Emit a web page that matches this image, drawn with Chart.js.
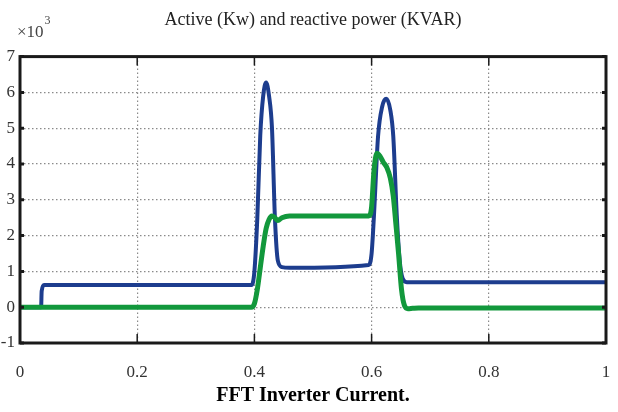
<!DOCTYPE html>
<html>
<head>
<meta charset="utf-8">
<title>Active and reactive power</title>
<script src="https://cdn.jsdelivr.net/npm/chart.js@4.4.1/dist/chart.umd.min.js"></script>
<style>
  html, body { margin: 0; padding: 0; background: #fff; }
  #wrap { width: 618px; height: 412px; }
</style>
</head>
<body>
<div id="wrap"><canvas id="chart" width="618" height="412"></canvas></div>
<script>
// Valeurs (échelle y en ×10^3)
const xTicks = [0, 0.2, 0.4, 0.6, 0.8, 1];
const yTicks = [-1, 0, 1, 2, 3, 4, 5, 6, 7];

// Puissance active (bleu)
const activeX = [0, 0.036, 0.037, 0.041, 0.395, 0.400, 0.405, 0.410, 0.415, 0.420, 0.425, 0.430, 0.435, 0.440, 0.447, 0.460,
  0.595, 0.600, 0.604, 0.611, 0.618, 0.625, 0.632, 0.637, 0.643, 0.648, 0.653, 0.660, 1];
const activeY = [0, 0, 0.45, 0.62, 0.62, 1.0, 2.5, 4.8, 5.9, 6.28, 5.9, 5.0, 2.5, 1.3, 1.12, 1.1,
  1.18, 1.5, 2.55, 4.77, 5.6, 5.82, 5.5, 4.77, 2.55, 1.3, 0.8, 0.7, 0.7];

// Puissance réactive (vert)
const reactiveX = [0, 0.395, 0.400, 0.405, 0.410, 0.415, 0.420, 0.425, 0.430, 0.435, 0.440, 0.447, 0.460,
  0.595, 0.600, 0.604, 0.609, 0.615, 0.620, 0.626, 0.632, 0.637, 0.641, 0.646, 0.651, 0.656, 0.662, 0.670, 0.680, 1];
const reactiveY = [0, 0, 0.1, 0.5, 1.1, 1.7, 2.2, 2.45, 2.55, 2.5, 2.42, 2.5, 2.55,
  2.55, 2.8, 3.8, 4.3, 4.2, 4.05, 3.9, 3.6, 3.1, 2.4, 1.5, 0.5, 0.05, -0.04, -0.03, -0.02, -0.02];

const toPoints = (xs, ys) => xs.map((x, i) => ({ x, y: ys[i] }));

const serif = "'Liberation Serif', 'Times New Roman', serif";

// cadre noir + graduations vers l'intérieur + ×10^3
const framePlugin = {
  id: "frame",
  afterDatasetsDraw(chart) {
    const { ctx, chartArea: a, scales } = chart;
    ctx.save();
    ctx.strokeStyle = "#1a1a1a";
    ctx.lineWidth = 1.5;
    ctx.beginPath();
    xTicks.forEach((v) => {
      const px = scales.x.getPixelForValue(v);
      ctx.moveTo(px, a.top); ctx.lineTo(px, a.top + 9);
      ctx.moveTo(px, a.bottom); ctx.lineTo(px, a.bottom - 9);
    });
    ctx.stroke();
    ctx.lineWidth = 3;
    ctx.beginPath();
    yTicks.forEach((v) => {
      const py = scales.y.getPixelForValue(v);
      ctx.moveTo(a.left, py); ctx.lineTo(a.left + 4, py);
      ctx.moveTo(a.right, py); ctx.lineTo(a.right - 4, py);
    });
    ctx.stroke();
    ctx.lineWidth = 3;
    ctx.strokeRect(a.left, a.top, a.right - a.left, a.bottom - a.top);

    ctx.fillStyle = "#444";
    ctx.textBaseline = "alphabetic";
    ctx.font = "17px " + serif;
    ctx.fillText("×10", 17, 37);
    const w = ctx.measureText("×10").width;
    ctx.font = "12px " + serif;
    ctx.fillText("3", 17 + w + 1, 24);
    ctx.restore();
  }
};

new Chart(document.getElementById("chart"), {
  type: "line",
  data: {
    datasets: [
      {
        label: "Reactive power (KVAR)",
        data: toPoints(reactiveX, reactiveY),
        borderColor: "#12983c",
        borderWidth: 5,
        pointRadius: 0,
        cubicInterpolationMode: "monotone",
        order: 0
      },
      {
        label: "Active power (Kw)",
        data: toPoints(activeX, activeY),
        borderColor: "#1d3d8e",
        borderWidth: 4,
        pointRadius: 0,
        cubicInterpolationMode: "monotone",
        order: 1
      }
    ]
  },
  options: {
    responsive: false,
    animation: false,
    layout: { padding: { left: 0, right: 12, top: 0, bottom: 0 } },
    plugins: {
      legend: { display: false },
      tooltip: { enabled: false },
      title: {
        display: true,
        fullSize: false,
        text: "Active (Kw) and reactive power (KVAR)",
        color: "#222",
        font: { family: serif, size: 18, weight: "normal" },
        padding: { top: 9, bottom: 26 }
      },
      subtitle: {
        display: true,
        fullSize: false,
        position: "bottom",
        text: "FFT Inverter Current.",
        color: "#000",
        font: { family: serif, size: 20, weight: "bold" },
        padding: { top: 2, bottom: 4 }
      }
    },
    scales: {
      x: {
        type: "linear",
        min: 0,
        max: 1,
        afterBuildTicks: (s) => { s.ticks = xTicks.map((v) => ({ value: v })); },
        afterFit: (s) => { s.height = 39; },
        ticks: {
          color: "#333",
          font: { family: serif, size: 17 },
          padding: 0,
          maxRotation: 0,
          callback: (v) => String(v)
        },
        grid: { color: "#8a8a8a", lineWidth: 1.2, drawTicks: true, tickLength: 19, tickColor: "rgba(0,0,0,0)" },
        border: { display: false, dash: [1.5, 2.5] }
      },
      y: {
        min: -1,
        max: 7,
        afterBuildTicks: (s) => { s.ticks = yTicks.map((v) => ({ value: v })); },
        afterFit: (s) => { s.width = 20; },
        ticks: {
          color: "#333",
          font: { family: serif, size: 17 },
          padding: 5,
          callback: (v) => String(v)
        },
        grid: { color: "#8a8a8a", lineWidth: 1.2, drawTicks: false },
        border: { display: false, dash: [1.5, 2.5] }
      }
    }
  },
  plugins: [framePlugin]
});
</script>
</body>
</html>
